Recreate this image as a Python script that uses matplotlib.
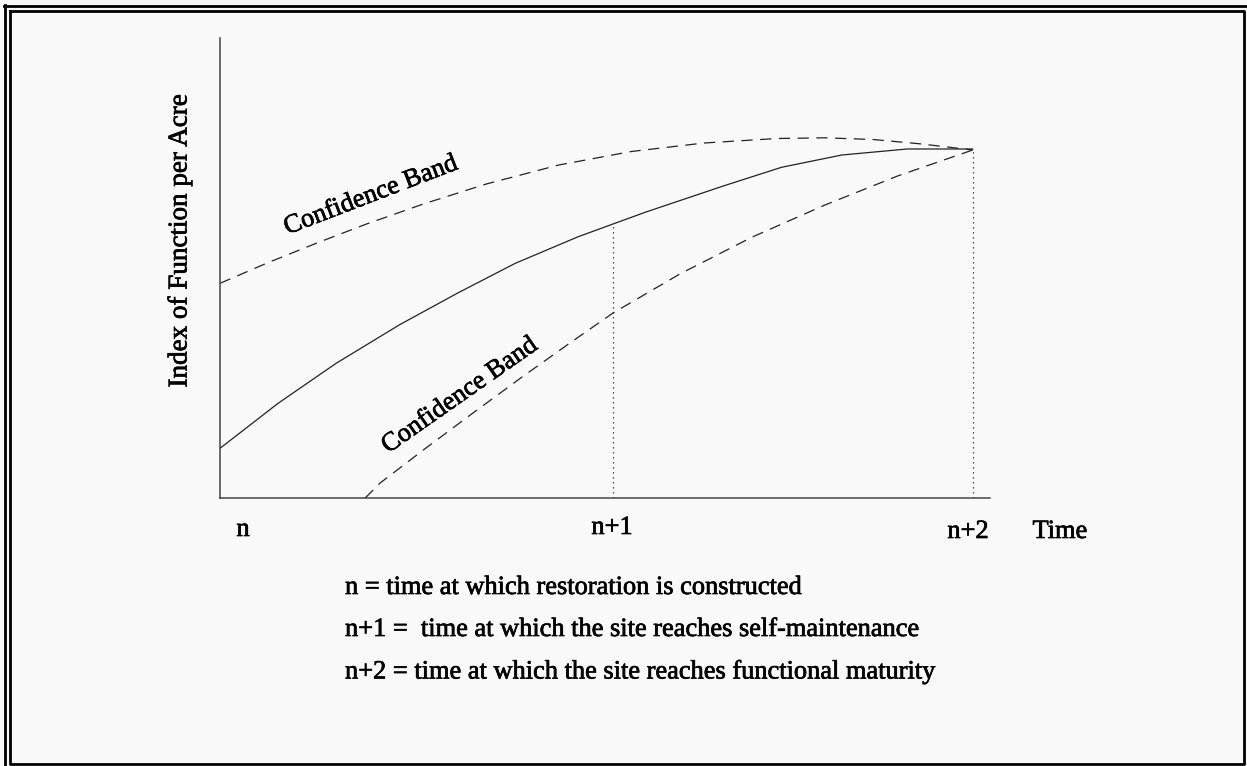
import matplotlib
matplotlib.use("Agg")
import matplotlib.pyplot as plt
from matplotlib.lines import Line2D
import matplotlib.patheffects as pe

plt.rcParams['font.family'] = ['Liberation Serif', 'DejaVu Serif']

# Data (time units: n=0, n+2=100; index units 0-100)
t_solid = [0, 7.72, 15.43, 23.8, 31.51, 39.23, 47.59, 52.22, 56.59, 66.87, 74.6, 82.63, 91.31, 100]
y_solid = [10.8, 20.59, 29.28, 37.61, 44.5, 51.02, 56.8, 59.57, 62.17, 67.83, 71.89, 74.57, 75.87, 75.87]

t_upper = [0, 6.43, 12.87, 19.29, 27.01, 35.37, 45.01, 54.66, 64.3, 73.95, 80.38, 86.81, 93.25, 100]
y_upper = [46.67, 51.2, 55.43, 59.46, 63.91, 68.26, 72.39, 75.33, 77.17, 78.15, 78.3, 77.93, 76.96, 75.65]

t_lower = [19.29, 21.23, 27.01, 33.43, 39.86, 46.3, 52.22, 61.09, 70.73, 80.38, 90.02, 100]
y_lower = [0, 3.2, 10.43, 18.26, 25.98, 33.48, 40.22, 48.7, 56.74, 63.7, 70.0, 75.65]

t_marks = [52.22, 100]
y_marks = [59.57, 75.87]
tick_labels = ["n", "n+1", "n+2"]
band_label = "Confidence Band"
x_label = "Time"
y_label = "Index of Function per Acre"
notes = ["n = time at which restoration is constructed",
         "n+1 =  time at which the site reaches self-maintenance",
         "n+2 = time at which the site reaches functional maturity"]

W, H = 1247, 766
bg = "#f9f9f9"
fig = plt.figure(figsize=(W / 100, H / 100), dpi=100, facecolor=bg)

def fx(px):
    return px / W

def fy(py):
    return 1 - py / H

ax = fig.add_axes([fx(220), fy(498), fx(990) - fx(220), fy(38) - fy(498)])
ax.set_facecolor("none")
ax.set_xlim(0, 102.3)
ax.set_ylim(0, 100)
for s in ["top", "right"]:
    ax.spines[s].set_visible(False)
for s in ["left", "bottom"]:
    ax.spines[s].set_color("#444444")
    ax.spines[s].set_linewidth(1.1)
ax.set_xticks([])
ax.set_yticks([])

lc = "#222222"
ax.plot(t_solid, y_solid, color=lc, lw=0.9)
ax.plot(t_upper, y_upper, color=lc, lw=0.9, dashes=(9, 6))
ax.plot(t_lower, y_lower, color=lc, lw=0.9, dashes=(9, 6))
for t, y in zip(t_marks, y_marks):
    ax.plot([t, t], [0, y], color=lc, lw=0.9, dashes=(1, 3))

fs = 19
eff = [pe.withStroke(linewidth=0.5, foreground="black")]
kw = dict(fontsize=fs, path_effects=eff)
fig.text(fx(243), fy(530), tick_labels[0], ha="center", va="center", **kw)
fig.text(fx(612), fy(528), tick_labels[1], ha="center", va="center", **kw)
fig.text(fx(968), fy(532), tick_labels[2], ha="center", va="center", **kw)
fig.text(fx(1060), fy(532), x_label, ha="center", va="center", **kw)
fig.text(fx(180), fy(241), y_label, ha="center", va="center", rotation=90,
         fontsize=19.5, path_effects=eff)

fig.text(fx(371), fy(196), band_label, ha="center", va="center", rotation=21, **kw)
fig.text(fx(460), fy(396), band_label, ha="center", va="center", rotation=35, **kw)

for txt, py in zip(notes, [588, 630, 672]):
    fig.text(fx(345), fy(py), txt, ha="left", va="center", **kw)

# double frame
lw = 2.0
fig.add_artist(Line2D([fx(4), fx(1247)], [fy(6), fy(6)], transform=fig.transFigure, color="black", lw=lw))
fig.add_artist(Line2D([fx(5), fx(5)], [fy(5), fy(766)], transform=fig.transFigure, color="black", lw=lw))
fig.add_artist(Line2D([fx(10), fx(1244), fx(1244), fx(10), fx(10)],
                      [fy(10.5), fy(10.5), fy(763.5), fy(763.5), fy(10.5)],
                      transform=fig.transFigure, color="black", lw=lw))

fig.savefig("out.png", dpi=100, facecolor=bg)
